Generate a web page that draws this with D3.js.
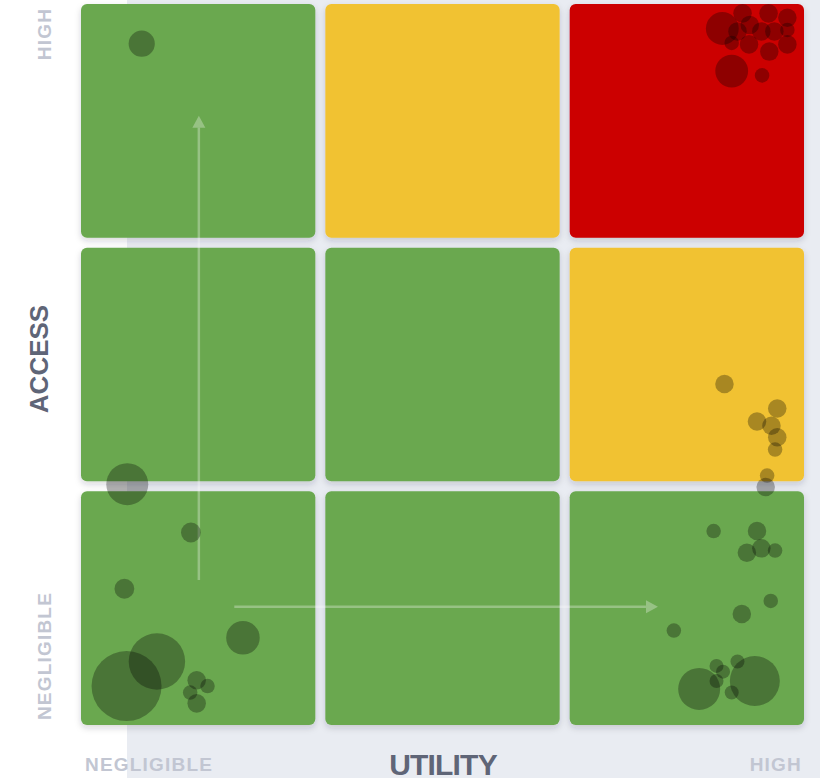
<!DOCTYPE html>
<html><head><meta charset="utf-8">
<script src="https://cdn.jsdelivr.net/npm/d3@7"></script>
<style>html,body{margin:0;padding:0;background:#fff;} svg{display:block;}</style>
</head><body><svg id="chart" width="820" height="778"></svg>
<script>
// ---------- data ----------
const levels = [0, 1, 2];
// riskGrid[accessLevel][utilityLevel]
const riskGrid = [
  ["low", "low", "low"],
  ["low", "low", "medium"],
  ["low", "medium", "high"]
];
const riskNames = ["low", "medium", "high"];
const xTickLabels = ["NEGLIGIBLE", "HIGH"];
const yTickLabels = ["NEGLIGIBLE", "HIGH"];
const xTitle = "UTILITY";
const yTitle = "ACCESS";

// bubbles: utility score (0-100), access score (0-100), weight
const bubbleUtility = [
  88.7, 91.5, 95.1, 97.7, 92.5, 90.8, 94.1, 95.9, 97.7, 90.0, 92.4, 95.2, 97.7, 90.0, 94.2,
  8.4,
  89.0, 96.3, 93.5, 95.5, 96.3, 96.0, 94.9, 94.7,
  87.5, 93.5, 94.1, 92.1, 96.0, 95.4, 91.4, 82.0, 85.5, 93.2, 87.9, 88.8, 87.9, 90.8, 90.0,
  6.4, 15.2, 6.0, 22.4, 6.3, 10.5, 16.0, 17.5, 15.1, 16.0
];
const bubbleAccess = [
  96.6, 98.7, 98.7, 98.1, 97.1, 96.2, 96.2, 96.2, 96.4, 94.6, 94.4, 93.4, 94.4, 90.7, 90.1,
  94.5,
  47.3, 43.9, 42.1, 41.5, 39.9, 38.2, 34.6, 33.0,
  26.9, 26.9, 24.5, 23.9, 24.2, 17.2, 15.4, 13.1, 5.0, 6.1, 8.2, 7.4, 6.1, 8.8, 4.5,
  33.4, 26.7, 18.9, 12.1, 5.4, 8.8, 6.2, 5.4, 4.5, 3.0
];
const bubbleWeight = [
  22, 7, 7, 7, 7, 7, 7, 7, 4.3, 4.3, 7, 7, 7, 22, 4.3,
  14,
  7, 7, 7, 7, 7, 4.3, 4.3, 7,
  4.3, 7, 7, 7, 4.3, 4.3, 7, 4.3, 36, 51, 4, 4, 4, 4, 4,
  36, 8, 8, 23, 100, 65, 7, 4.3, 4.3, 7
];

// direction arrows (score coordinates)
const arrowX1 = [16.3, 21.2];
const arrowY1 = [20.1, 16.4];
const arrowX2 = [16.3, 79.8];
const arrowY2 = [84.5, 16.4];

// ---------- chart ----------
const W = 820, H = 778;
const plot = {left: 81, right: 804, top: 4, bottom: 725};
const svg = d3.select("#chart");

const defs = svg.append("defs");
const f = defs.append("filter").attr("id", "shadow")
  .attr("x", "-10%").attr("y", "-10%").attr("width", "120%").attr("height", "125%");
f.append("feDropShadow").attr("dx", 0).attr("dy", 3).attr("stdDeviation", 3)
  .attr("flood-color", "#1a2340").attr("flood-opacity", 0.18);

defs.append("marker").attr("id", "arrowhead")
  .attr("markerUnits", "userSpaceOnUse")
  .attr("markerWidth", 14).attr("markerHeight", 14)
  .attr("refX", 0).attr("refY", 7).attr("orient", "auto")
  .append("path").attr("d", "M0,0.5 L12,7 L0,13.5 Z")
  .attr("fill", "#fff").attr("fill-opacity", 0.3);

// page background
svg.append("rect").attr("x", 127).attr("y", 0).attr("width", W - 127).attr("height", H)
  .attr("fill", "#e9ecf2");

const col = d3.scaleBand().domain(levels).range([plot.left, plot.right]).paddingInner(0.041);
const row = d3.scaleBand().domain(levels.slice().reverse()).range([plot.top, plot.bottom]).paddingInner(0.041);
const riskColor = d3.scaleOrdinal().domain(riskNames).range(["#6aa84f", "#f1c232", "#cc0000"]);

const cells = [];
levels.forEach(a => levels.forEach(u => cells.push({a, u, risk: riskGrid[a][u]})));

svg.append("g").selectAll("rect").data(cells).join("rect")
  .attr("x", d => col(d.u)).attr("y", d => row(d.a))
  .attr("width", col.bandwidth()).attr("height", row.bandwidth())
  .attr("rx", 6).attr("ry", 6)
  .attr("fill", d => riskColor(d.risk))
  .attr("filter", "url(#shadow)");

const x = d3.scaleLinear().domain([0, 100]).range([plot.left, plot.right]);
const y = d3.scaleLinear().domain([0, 100]).range([plot.bottom, plot.top]);
const r = d3.scaleSqrt().domain([0, 100]).range([0, 35]);

// arrows
const arrows = arrowX1.map((v, i) => ({x1: v, y1: arrowY1[i], x2: arrowX2[i], y2: arrowY2[i]}));
svg.append("g").selectAll("line").data(arrows).join("line")
  .attr("x1", d => x(d.x1)).attr("y1", d => y(d.y1))
  .attr("x2", d => {
    const dx = x(d.x2) - x(d.x1), dy = y(d.y2) - y(d.y1), L = Math.hypot(dx, dy);
    return x(d.x2) - dx / L * 12;
  })
  .attr("y2", d => {
    const dx = x(d.x2) - x(d.x1), dy = y(d.y2) - y(d.y1), L = Math.hypot(dx, dy);
    return y(d.y2) - dy / L * 12;
  })
  .attr("stroke", "#fff").attr("stroke-opacity", 0.3).attr("stroke-width", 2.5)
  .attr("marker-end", "url(#arrowhead)");

// bubbles
const bubbles = bubbleUtility.map((u, i) => ({u, a: bubbleAccess[i], w: bubbleWeight[i]}));
svg.append("g").selectAll("circle").data(bubbles).join("circle")
  .attr("cx", d => x(d.u)).attr("cy", d => y(d.a)).attr("r", d => r(d.w))
  .attr("fill", "#000").attr("fill-opacity", 0.3);

// labels
const font = "'Liberation Sans', Arial, Helvetica, sans-serif";
const tickStyle = s => s.attr("font-family", font).attr("font-weight", 700)
  .attr("font-size", 19).attr("letter-spacing", 1.2).attr("fill", "#c2c6d2");

// y tick labels (rotated)
svg.append("text").text(yTickLabels[1]).call(tickStyle)
  .attr("text-anchor", "middle").attr("transform", "translate(50.5,34) rotate(-90)");
svg.append("text").text(yTickLabels[0]).call(tickStyle)
  .attr("text-anchor", "middle").attr("transform", "translate(50.5,656) rotate(-90)");
// x tick labels
svg.append("text").text(xTickLabels[0]).call(tickStyle)
  .attr("x", 85).attr("y", 770.5);
svg.append("text").text(xTickLabels[1]).call(tickStyle)
  .attr("text-anchor", "end").attr("x", 802).attr("y", 770.5);

// titles
svg.append("text").text(yTitle)
  .attr("font-family", font).attr("font-weight", 700).attr("font-size", 26)
  .attr("fill", "#5f6577").attr("text-anchor", "middle")
  .attr("transform", "translate(47.5,359) rotate(-90)");
svg.append("text").text(xTitle)
  .attr("font-family", font).attr("font-weight", 700).attr("font-size", 30)
  .attr("letter-spacing", -0.8)
  .attr("fill", "#5f6577").attr("text-anchor", "middle")
  .attr("x", 443).attr("y", 775);
</script>
</body></html>
